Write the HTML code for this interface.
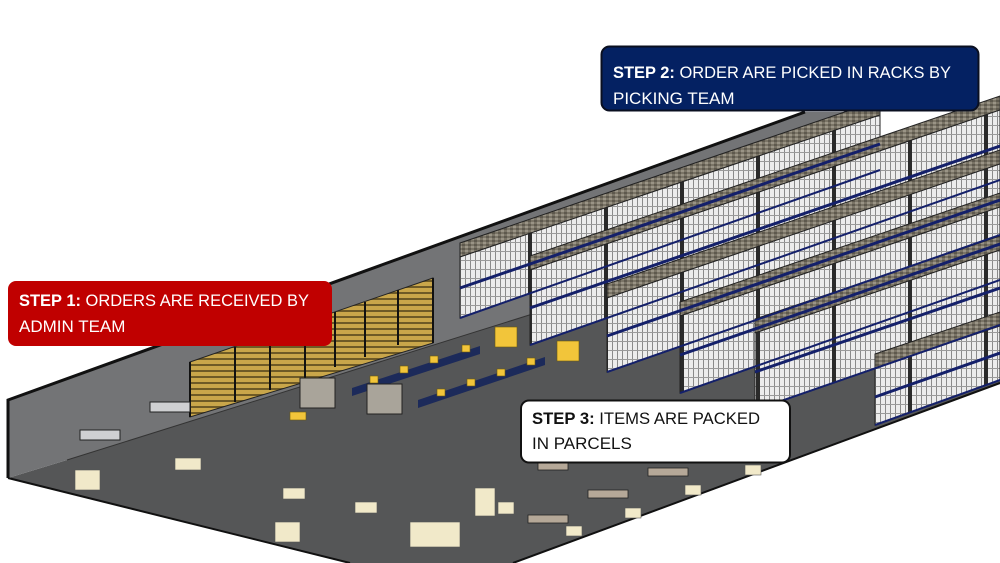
<!DOCTYPE html>
<html><head><meta charset="utf-8"><style>
html,body{margin:0;padding:0;background:#fff;width:1000px;height:563px;overflow:hidden}
svg{display:block}
text{font-family:"Liberation Sans",sans-serif}
</style></head><body>
<svg width="1000" height="563" viewBox="0 0 1000 563" xmlns="http://www.w3.org/2000/svg">
<defs>
<pattern id="rk" x="0" y="0" width="76" height="9" patternUnits="userSpaceOnUse">
<rect width="76" height="9" fill="#ececec"/>
<g fill="#8a8a8a"><rect x="4" width="1" height="9"/><rect x="9" width="1" height="9"/><rect x="14" width="1" height="9"/><rect x="19" width="1" height="9"/><rect x="24" width="1" height="9"/><rect x="29" width="1" height="9"/><rect x="34" width="1" height="9"/><rect x="39" width="1" height="9"/><rect x="44" width="1" height="9"/><rect x="49" width="1" height="9"/><rect x="54" width="1" height="9"/><rect x="59" width="1" height="9"/><rect x="64" width="1" height="9"/><rect x="69" width="1" height="9"/></g>
<rect y="8" width="76" height="1" fill="#9a9a9a"/>
<rect x="72" width="4" height="9" fill="#2a2a2a"/>
</pattern>
<pattern id="tp" width="6" height="4" patternUnits="userSpaceOnUse">
<rect width="6" height="4" fill="#7a7466"/><rect width="3" height="2" fill="#5e594e"/><rect x="3" y="2" width="3" height="2" fill="#9a9486"/>
</pattern>
<pattern id="yl" width="8" height="6" patternUnits="userSpaceOnUse">
<rect width="8" height="6" fill="#c9a64a"/><rect y="4" width="8" height="2" fill="#6e5a26"/>
</pattern>
</defs>
<polygon points="8,478 67,460 880,205 1000,170 1000,383 513,563 350,563" fill="#555657"/>
<polyline points="8,478 350,563" stroke="#111" stroke-width="2" fill="none"/>
<polyline points="513,563 1000,383" stroke="#111" stroke-width="2" fill="none"/>
<polygon points="8,400 805,112 880,112 880,205 67,460 8,478" fill="#737476"/>
<polyline points="8,478 8,400 805,112" stroke="#111" stroke-width="3" fill="none"/>
<line x1="67" y1="460" x2="880" y2="205" stroke="#333" stroke-width="1"/>
<polygon points="190,362 433,278 433,343 190,417" fill="url(#yl)" stroke="#222" stroke-width="1"/>
<g stroke="#111" stroke-width="2"><line x1="190" y1="362" x2="190" y2="417"/><line x1="235" y1="347" x2="235" y2="402"/><line x1="270" y1="335" x2="270" y2="390"/><line x1="305" y1="323" x2="305" y2="378"/><line x1="335" y1="312" x2="335" y2="367"/><line x1="365" y1="302" x2="365" y2="357"/><line x1="398" y1="290" x2="398" y2="345"/><line x1="433" y1="278" x2="433" y2="343"/></g>
<g stroke="#222" stroke-width="1">
<polygon points="460,243 880,100 880,115 460,257" fill="url(#tp)"/>
<polygon points="460,257 880,115 880,170 460,318" fill="url(#rk)"/>
<polygon points="530,256 1000,96 1000,110 530,270" fill="url(#tp)"/>
<polygon points="530,270 1000,110 1000,180 530,345" fill="url(#rk)"/>
<polygon points="607,284 1000,150 1000,164 607,298" fill="url(#tp)"/>
<polygon points="607,298 1000,164 1000,235 607,372" fill="url(#rk)"/>
<polygon points="680,302 1000,193 1000,207 680,316" fill="url(#tp)"/>
<polygon points="680,316 1000,207 1000,280 680,393" fill="url(#rk)"/>
<polygon points="755,319 1000,236 1000,250 755,333" fill="url(#tp)"/>
<polygon points="755,333 1000,250 1000,325 755,410" fill="url(#rk)"/>
<polygon points="875,354 1000,312 1000,326 875,368" fill="url(#tp)"/>
<polygon points="875,368 1000,326 1000,380 875,425" fill="url(#rk)"/>
</g>
<g stroke="#14206a" stroke-width="3">
<line x1="460" y1="288" x2="880" y2="144"/><line x1="530" y1="308" x2="1000" y2="146"/><line x1="607" y1="336" x2="1000" y2="200"/><line x1="680" y1="355" x2="1000" y2="244"/><line x1="755" y1="372" x2="1000" y2="288"/><line x1="875" y1="397" x2="1000" y2="353"/>
</g>
<g stroke="#14206a" stroke-width="2"><line x1="460" y1="318" x2="880" y2="170"/><line x1="530" y1="345" x2="1000" y2="180"/><line x1="607" y1="372" x2="1000" y2="235"/><line x1="680" y1="393" x2="1000" y2="280"/><line x1="755" y1="410" x2="1000" y2="325"/><line x1="875" y1="425" x2="1000" y2="380"/></g>
<polygon points="352,388 480,346 480,354 352,396" fill="#1c2a5a"/>
<polygon points="418,400 545,357 545,365 418,408" fill="#1c2a5a"/>
<g fill="#f2c53a" stroke="#6b5a10" stroke-width="0.6">
<rect x="370" y="376" width="8" height="7"/><rect x="400" y="366" width="8" height="7"/><rect x="430" y="356" width="8" height="7"/><rect x="462" y="345" width="8" height="7"/>
<rect x="437" y="389" width="8" height="7"/><rect x="467" y="379" width="8" height="7"/><rect x="497" y="369" width="8" height="7"/><rect x="527" y="358" width="8" height="7"/>
<rect x="495" y="327" width="22" height="20"/><rect x="557" y="341" width="22" height="20"/><rect x="290" y="412" width="16" height="8"/>
</g>
<g fill="#a9a49a" stroke="#222" stroke-width="1">
<rect x="300" y="378" width="35" height="30"/><rect x="367" y="384" width="35" height="30"/>
</g>
<g fill="#cfd0d2" stroke="#222" stroke-width="1">
<rect x="80" y="430" width="40" height="10"/><rect x="150" y="402" width="40" height="10"/>
</g>
<g fill="#f1e9c9" stroke="#555" stroke-width="0.6">
<rect x="75" y="470" width="25" height="20"/><rect x="275" y="522" width="25" height="20"/><rect x="410" y="522" width="50" height="25"/><rect x="175" y="458" width="26" height="12"/><rect x="283" y="488" width="22" height="11"/><rect x="355" y="502" width="22" height="11"/>
<rect x="475" y="488" width="20" height="28"/><rect x="498" y="502" width="16" height="12"/><rect x="566" y="526" width="16" height="10"/><rect x="625" y="508" width="16" height="10"/><rect x="685" y="485" width="16" height="10"/><rect x="745" y="465" width="16" height="10"/>
</g>
<g fill="#b5a898" stroke="#222" stroke-width="0.8">
<rect x="528" y="515" width="40" height="8"/><rect x="588" y="490" width="40" height="8"/><rect x="648" y="468" width="40" height="8"/><rect x="538" y="462" width="30" height="8"/>
</g>
<rect x="601.5" y="46.5" width="377" height="64" rx="8" fill="#042162" stroke="#0a0f20" stroke-width="2"/>
<text x="613" y="78" fill="#fff" font-size="17" textLength="338" lengthAdjust="spacingAndGlyphs"><tspan font-weight="bold">STEP 2:</tspan> ORDER ARE PICKED IN RACKS BY</text>
<text x="613" y="104" fill="#fff" font-size="17">PICKING TEAM</text>
<rect x="8" y="281" width="324" height="65" rx="8" fill="#c00000"/>
<text x="19" y="306" fill="#fff" font-size="17" textLength="290" lengthAdjust="spacingAndGlyphs"><tspan font-weight="bold">STEP 1:</tspan> ORDERS ARE RECEIVED BY</text>
<text x="19" y="332" fill="#fff" font-size="17">ADMIN TEAM</text>
<rect x="521" y="400.5" width="269" height="62" rx="8" fill="#fff" stroke="#111" stroke-width="2"/>
<text x="532" y="424" fill="#111" font-size="17" textLength="228" lengthAdjust="spacingAndGlyphs"><tspan font-weight="bold">STEP 3:</tspan> ITEMS ARE PACKED</text>
<text x="532" y="449" fill="#111" font-size="17">IN PARCELS</text>
</svg>
</body></html>
